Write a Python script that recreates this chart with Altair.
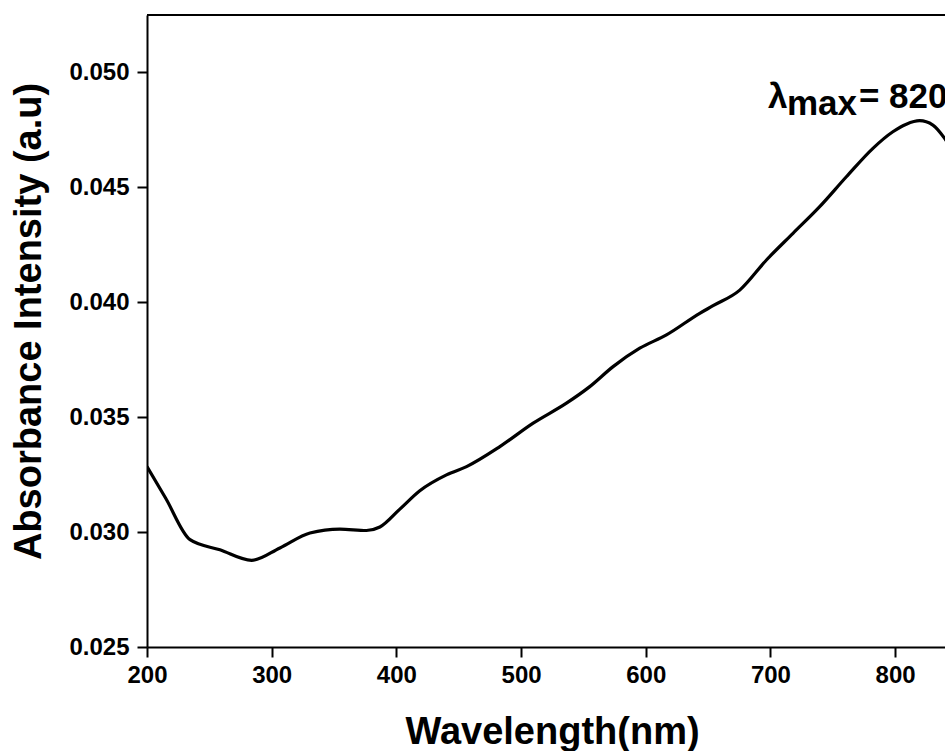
import altair as alt
import pandas as pd

wavelength = [200, 215, 234.5, 258.5, 283.9, 306.6, 330.7, 354.7, 376, 386.8, 402.8, 418.8,
              440.2, 456.3, 483, 509.7, 536.4, 555.1, 573.8, 595.2, 616.6, 643.3, 654,
              675.4, 696.8, 718.1, 739.5, 760.9, 782.2, 798.2, 809, 819.6, 830.3, 839.7, 850]
absorbance = [0.03285, 0.03147, 0.02967, 0.02923, 0.02877, 0.02931, 0.02996, 0.03013, 0.03007,
              0.03022, 0.03100, 0.03180, 0.03249, 0.03285, 0.03372, 0.03474, 0.03561, 0.03633,
              0.03720, 0.03800, 0.03858, 0.03952, 0.03985, 0.04053, 0.04184, 0.04300, 0.04416,
              0.04546, 0.04670, 0.04742, 0.04775, 0.04790, 0.04771, 0.04713, 0.04620]

x_ticks = [200, 300, 400, 500, 600, 700, 800]
y_ticks = [0.025, 0.030, 0.035, 0.040, 0.045, 0.050]

ann_x = [698]
ann_y = [0.04845]

df = pd.DataFrame({"wl": wavelength, "abs": absorbance})
ann = pd.DataFrame({"wl": ann_x, "abs": ann_y})

FONT = "Liberation Sans"
W, H = 798, 632

xscale = alt.Scale(domain=[200, 840], nice=False, zero=False)
yscale = alt.Scale(domain=[0.025, 0.0525], nice=False, zero=False)

line = alt.Chart(df).mark_line(color="black", strokeWidth=3.2, interpolate="monotone", clip=True).encode(
    x=alt.X("wl:Q", scale=xscale,
            axis=alt.Axis(values=x_ticks, title="Wavelength(nm)", format="d",
                          titleX=405, titleY=96, titleBaseline="alphabetic")),
    y=alt.Y("abs:Q", scale=yscale,
            axis=alt.Axis(values=y_ticks, title="Absorbance Intensity (a.u)", format=".3f",
                          titleX=-107, titleY=306, titleBaseline="alphabetic")),
)

top_rule = alt.Chart(df).mark_rule(color="black", strokeWidth=2).encode(
    x=alt.value(0), x2=alt.value(W), y=alt.value(0)
)

base_text = alt.Chart(ann).encode(x=alt.X("wl:Q", scale=xscale), y=alt.Y("abs:Q", scale=yscale))
t1 = base_text.mark_text(text="λ", font=FONT, fontSize=35, fontWeight="bold", align="left",
                         baseline="alphabetic", clip=True)
t2 = base_text.mark_text(text="max", font=FONT, fontSize=35, fontWeight="bold", align="left",
                         baseline="alphabetic", dx=19, dy=7, clip=True)
t3 = base_text.mark_text(text="= 820 nm", font=FONT, fontSize=35, fontWeight="bold", align="left",
                         baseline="alphabetic", dx=91, clip=True)

chart = alt.layer(line, top_rule, t1, t2, t3).properties(
    width=W, height=H,
    autosize=alt.AutoSizeParams(type="none"),
    padding={"left": 147, "top": 15, "right": 0, "bottom": 104},
).configure_view(stroke=None).configure_axis(
    domainColor="black", domainWidth=2, tickColor="black", tickWidth=2, tickSize=10,
    labelFont=FONT, labelFontSize=24, labelFontWeight="bold", labelColor="black",
    titleFont=FONT, titleFontSize=38, titleFontWeight="bold", titleColor="black",
    grid=False, labelPadding=6, labelFlush=False, labelOverlap=False,
).configure_axisY(labelPadding=8)

chart.save("out.html", embed_options={"renderer": "svg", "actions": False})
